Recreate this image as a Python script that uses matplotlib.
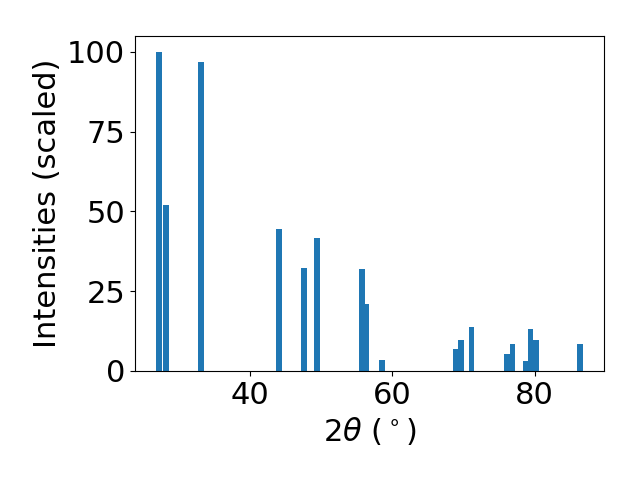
import matplotlib
matplotlib.use("Agg")
import matplotlib.pyplot as plt

# Peak positions (2-theta, degrees) and scaled intensities
two_theta = [27.31, 28.26, 33.18, 44.15, 47.6, 49.49, 55.75, 56.4, 58.57,
             68.9, 69.68, 71.15, 76.1, 76.9, 78.75, 79.4, 80.2, 86.34]
intensity = [100, 52.0, 96.9, 44.5, 32.3, 41.7, 32.0, 21.0, 3.4,
             6.9, 9.7, 13.8, 5.3, 8.5, 3.1, 13.2, 9.7, 8.5]

plt.rcParams["font.size"] = 22

fig, ax = plt.subplots(figsize=(6.4, 4.8), dpi=100)
ax.bar(two_theta, intensity)
ax.set_yticks([0, 25, 50, 75, 100])
ax.set_xlabel(r"$2\theta$ ($^\circ$)")
ax.set_ylabel("Intensities (scaled)")
fig.subplots_adjust(left=0.2109, right=0.9438, bottom=0.2271, top=0.925)
fig.savefig("out.png")
